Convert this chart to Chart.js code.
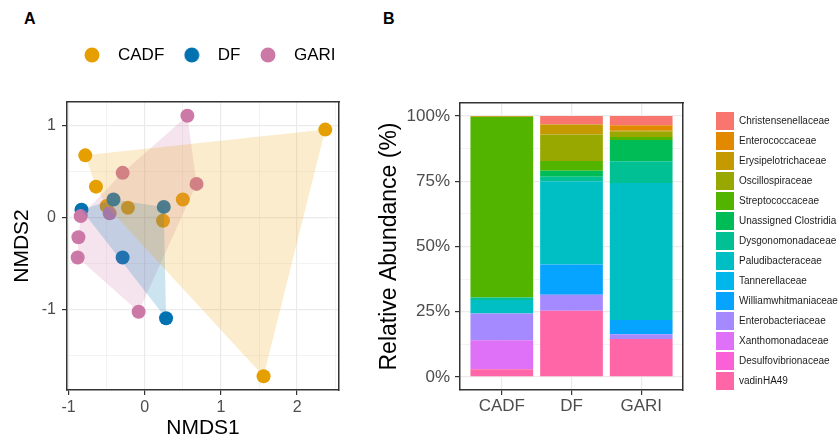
<!DOCTYPE html>
<html>
<head>
<meta charset="utf-8">
<script src="https://cdn.jsdelivr.net/npm/chart.js@4.4.1/dist/chart.umd.min.js"></script>
<style>
  html, body { margin: 0; padding: 0; background: #fff; }
  body { position: relative; width: 840px; height: 443px; overflow: hidden; font-family: "Liberation Sans", Arial, sans-serif; }
  canvas { position: absolute; top: 0; }
  #nmdsChart { left: 0; }
  #abundanceChart { left: 370px; }
  .panel-tag { position: absolute; top: 11px; font-size: 16px; line-height: 16px; font-weight: bold; color: #000; }
</style>
</head>
<body>
<div class="panel-tag" style="left:24px">A</div>
<div class="panel-tag" style="left:383px">B</div>
<canvas id="nmdsChart" width="410" height="443"></canvas>
<canvas id="abundanceChart" width="480" height="502"></canvas>
<script>
// NMDS ordination (panel A)
const groups = ["CADF", "DF", "GARI"];
const groupColors = ["#E69F00", "#0072B2", "#CC79A7"];
const cadfX = [2.37, -0.78, -0.64, -0.5, -0.22, 0.5, 0.24, 1.56];
const cadfY = [0.96, 0.68, 0.34, 0.13, 0.11, 0.2, -0.03, -1.72];
const dfX = [-0.83, -0.41, 0.25, -0.29, 0.28];
const dfY = [0.09, 0.2, 0.12, -0.43, -1.09];
const gariX = [0.56, -0.29, 0.68, -0.46, -0.84, -0.87, -0.88, -0.08];
const gariY = [1.11, 0.49, 0.37, 0.05, 0.02, -0.21, -0.43, -1.02];
const nmdsXTicks = [-1, -0.5, 0, 0.5, 1, 1.5, 2, 2.5];
const nmdsYTicks = [-1.5, -1, -0.5, 0, 0.5, 1];

// Relative abundance (panel B), values in % for CADF, DF, GARI
const sites = ["CADF", "DF", "GARI"];
const families = [
  "Christensenellaceae", "Enterococcaceae", "Erysipelotrichaceae", "Oscillospiraceae",
  "Streptococcaceae", "Unassigned Clostridia", "Dysgonomonadaceae", "Paludibacteraceae",
  "Tannerellaceae", "Williamwhitmaniaceae", "Enterobacteriaceae", "Xanthomonadaceae",
  "Desulfovibrionaceae", "vadinHA49",
];
const familyColors = [
  "#F8766D", "#E38900", "#C49A00", "#99A800", "#53B400", "#00BC56", "#00C094",
  "#00BFC4", "#00B6EB", "#06A4FF", "#A58AFF", "#DF70F8", "#FB61D7", "#FF66A8",
];
const christensenellaceae = [0, 3.2, 3.5];
const enterococcaceae = [0.3, 0, 1.9];
const erysipelotrichaceae = [0, 3.9, 0.6];
const oscillospiraceae = [0, 10.1, 2.0];
const streptococcaceae = [69.2, 3.8, 1.2];
const unassignedClostridia = [0, 2.3, 8.1];
const dysgonomonadaceae = [1.0, 1.7, 8.4];
const paludibacteraceae = [5.2, 31.9, 52.5];
const tannerellaceae = [0, 0, 0];
const williamwhitmaniaceae = [0, 11.6, 5.4];
const enterobacteriaceae = [10.2, 6.1, 1.9];
const xanthomonadaceae = [11.1, 0, 0];
const desulfovibrionaceae = [0, 0, 0];
const vadinHA49 = [3.0, 25.4, 14.5];
const abundanceTicks = [0, 12.5, 25, 37.5, 50, 62.5, 75, 87.5, 100];

const familyValues = [
  christensenellaceae, enterococcaceae, erysipelotrichaceae, oscillospiraceae,
  streptococcaceae, unassignedClostridia, dysgonomonadaceae, paludibacteraceae,
  tannerellaceae, williamwhitmaniaceae, enterobacteriaceae, xanthomonadaceae,
  desulfovibrionaceae, vadinHA49,
];

Chart.defaults.font.family = '"Liberation Sans", Arial, sans-serif';
Chart.defaults.color = "#4D4D4D";

const gridColor = "#EBEBEB";
const frame = "#333333";
const isMajor = (v) => Number.isInteger(v);
const fixedWidth = (w) => (scale) => { scale.width = w; };
const fixedHeight = (h) => (scale) => { scale.height = h; };
const setTicks = (values) => (scale) => { scale.ticks = values.map((v) => ({ value: v })); };

// lock the legend box size so the plot area lands where it should
const legendSize = (w, h) => ({
  id: "legendSize",
  beforeInit(chart) {
    const fit = chart.legend.fit;
    chart.legend.fit = function () {
      fit.call(this);
      if (w) this.width = w;
      if (h) this.height = h;
    };
  },
});

// convex hull (monotone chain), closed
function hull(xs, ys) {
  const pts = xs.map((x, i) => ({ x, y: ys[i] })).sort((a, b) => a.x - b.x || a.y - b.y);
  const cross = (o, a, b) => (a.x - o.x) * (b.y - o.y) - (a.y - o.y) * (b.x - o.x);
  const half = (list) => {
    const out = [];
    list.forEach((p) => {
      while (out.length >= 2 && cross(out[out.length - 2], out[out.length - 1], p) <= 0) out.pop();
      out.push(p);
    });
    return out;
  };
  const lower = half(pts);
  const upper = half(pts.slice().reverse());
  const h = lower.slice(0, -1).concat(upper.slice(0, -1));
  return h.concat([h[0]]);
}

function dot(color) {
  const c = document.createElement("canvas");
  c.width = 16;
  c.height = 16;
  const g = c.getContext("2d");
  g.fillStyle = color;
  g.beginPath();
  g.arc(8, 8, 7.5, 0, Math.PI * 2);
  g.fill();
  return c;
}

const frameAxis = (position, size) => ({
  type: "linear",
  position,
  display: true,
  grid: { display: false, drawTicks: false },
  ticks: { display: false },
  border: { color: frame, width: 1.5 },
  afterFit: position === "top" ? fixedHeight(size) : fixedWidth(size),
});

const majorMinorGrid = {
  color: gridColor,
  lineWidth: (c) => (isMajor(c.tick.value) ? 1.2 : 0.6),
  tickLength: 5,
  tickWidth: 1.2,
  tickColor: (c) => (isMajor(c.tick.value) ? frame : "transparent"),
};

// Panel A
const groupX = [cadfX, dfX, gariX];
const groupY = [cadfY, dfY, gariY];

const hullSets = groups.map((g, i) => ({
  type: "line",
  label: g + " hull",
  data: hull(groupX[i], groupY[i]),
  backgroundColor: groupColors[i] + "33",
  borderColor: "transparent",
  borderWidth: 0,
  pointRadius: 0,
  fill: "shape",
  tension: 0,
  order: 0,
}));

const pointSets = groups.map((g, i) => ({
  type: "scatter",
  label: g,
  data: groupX[i].map((x, j) => ({ x, y: groupY[i][j] })),
  backgroundColor: groupColors[i],
  borderWidth: 0,
  pointRadius: 7,
  order: 3 - i,
}));

new Chart(document.getElementById("nmdsChart"), {
  type: "scatter",
  data: { datasets: [...hullSets, ...pointSets] },
  options: {
    responsive: false,
    animation: false,
    layout: { padding: { top: 36.5 } },
    plugins: {
      tooltip: { enabled: false },
      legend: {
        labels: {
          usePointStyle: true,
          pointStyleWidth: 35,
          padding: 10,
          color: "#000",
          font: { size: 17 },
          generateLabels: () =>
            groups.map((g, i) => ({
              text: g,
              pointStyle: dot(groupColors[i]),
              fillStyle: groupColors[i],
              strokeStyle: groupColors[i],
              lineWidth: 0,
              hidden: false,
              datasetIndex: 3 + i,
            })),
        },
      },
    },
    scales: {
      x: {
        type: "linear",
        min: -1.02,
        max: 2.55,
        afterBuildTicks: setTicks(nmdsXTicks),
        afterFit: fixedHeight(53),
        grid: majorMinorGrid,
        border: { color: frame, width: 1.5 },
        ticks: { padding: 3, autoSkip: false, maxRotation: 0, font: { size: 16 }, callback: (v) => (isMajor(v) ? v : "") },
        title: { display: true, text: "NMDS1", color: "#000", font: { size: 21 }, padding: { top: 0, bottom: 2.4 } },
      },
      y: {
        type: "linear",
        min: -1.87,
        max: 1.26,
        afterBuildTicks: setTicks(nmdsYTicks),
        afterFit: fixedWidth(67),
        grid: majorMinorGrid,
        border: { color: frame, width: 1.5 },
        ticks: { padding: 6, autoSkip: false, font: { size: 16 }, callback: (v) => (isMajor(v) ? v : "") },
        title: { display: true, text: "NMDS2", color: "#000", font: { size: 21 }, padding: { top: 9.5, bottom: 0 } },
      },
      x2: frameAxis("top", 25.5),
      y2: frameAxis("right", 71),
    },
  },
  plugins: [legendSize(0, 40)],
});

// Panel B
const barSets = families
  .map((f, i) => ({
    label: f,
    data: sites.map((s, j) => ({ x: j + 1, y: familyValues[i][j] })),
    backgroundColor: familyColors[i],
    borderWidth: 0,
    barPercentage: 0.9,
    categoryPercentage: 1,
    xAxisID: "x",
    yAxisID: "y",
  }))
  .reverse();

new Chart(document.getElementById("abundanceChart"), {
  type: "bar",
  data: { datasets: barSets },
  options: {
    responsive: false,
    animation: false,
    plugins: {
      tooltip: { enabled: false },
      legend: {
        position: "right",
        reverse: true,
        labels: { boxWidth: 18, boxHeight: 18, padding: 2, color: "#1A1A1A", font: { size: 10 } },
      },
    },
    scales: {
      x: {
        type: "linear",
        min: 0.4,
        max: 3.6,
        offset: false,
        stacked: true,
        afterBuildTicks: setTicks([1, 2, 3]),
        afterFit: fixedHeight(112),
        grid: { color: gridColor, lineWidth: 1.2, offset: false, tickLength: 5, tickWidth: 1.2, tickColor: frame },
        border: { color: frame, width: 1.5 },
        ticks: { padding: 1, autoSkip: false, maxRotation: 0, font: { size: 17 }, callback: (v) => sites[v - 1] },
      },
      y: {
        type: "linear",
        min: -5,
        max: 105,
        stacked: true,
        afterBuildTicks: setTicks(abundanceTicks),
        afterFit: fixedWidth(90),
        grid: { color: gridColor, lineWidth: (c) => (c.tick.value % 25 === 0 ? 1.2 : 0.6), tickLength: 5, tickWidth: 1.2, tickColor: (c) => (c.tick.value % 25 === 0 ? frame : "transparent") },
        border: { color: frame, width: 1.5 },
        ticks: { padding: 5, autoSkip: false, font: { size: 17 }, callback: (v) => (v % 25 === 0 ? v + "%" : "") },
        title: { display: true, text: "Relative Abundance (%)", color: "#000", font: { size: 23 }, padding: { top: 6, bottom: 0 } },
      },
      x2: frameAxis("top", 103),
      y2: frameAxis("right", 31),
    },
  },
  plugins: [legendSize(136, 0)],
});
</script>
</body>
</html>
